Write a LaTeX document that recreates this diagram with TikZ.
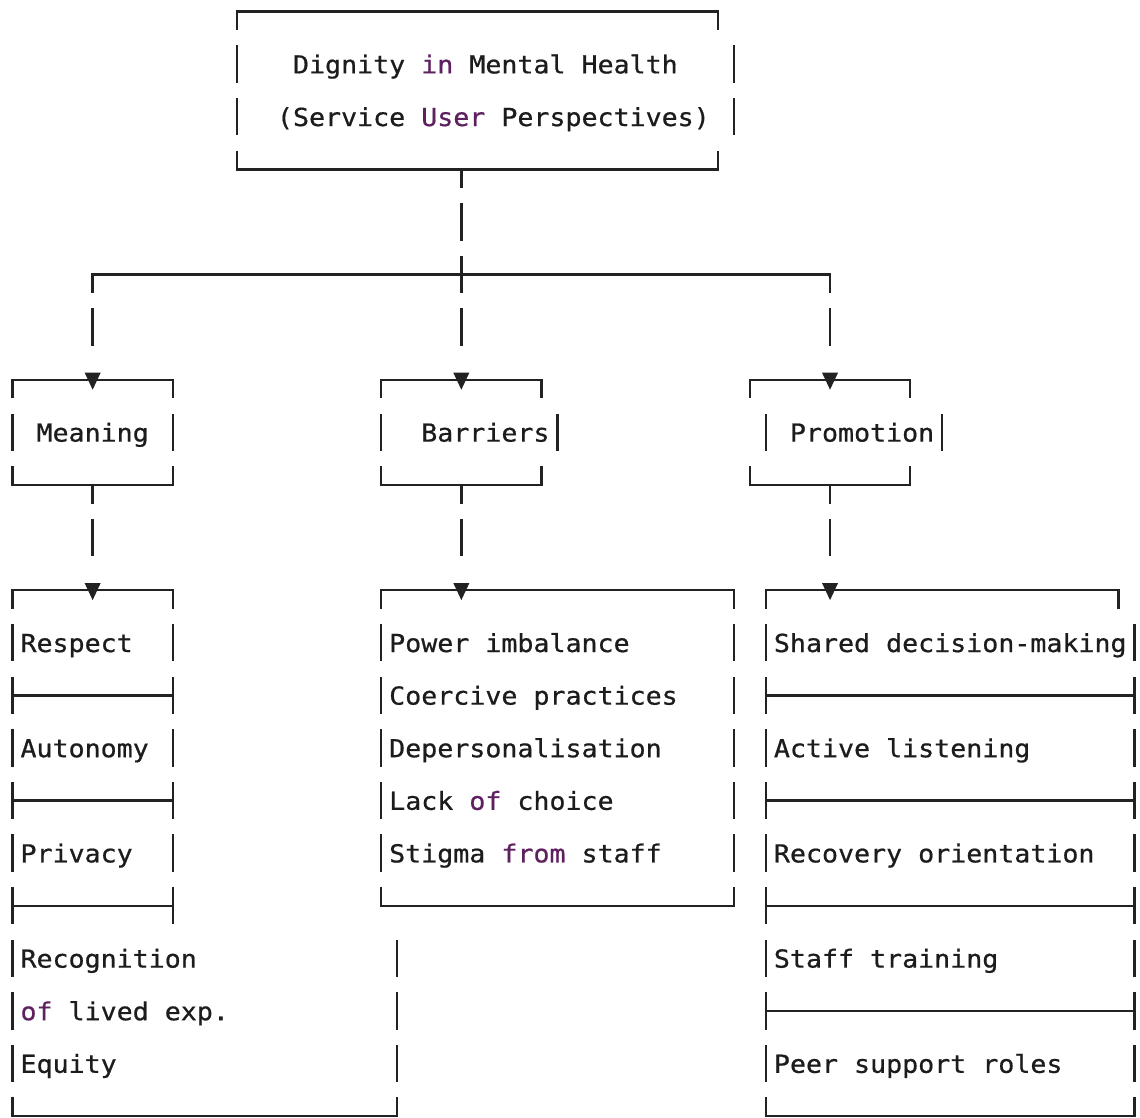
\documentclass[tikz,border=0pt]{standalone}
\usepackage{fontspec}
\newfontfamily\monofnt[FakeStretch=1.0736,FakeBold=0.7]{DejaVu Sans Mono}
\definecolor{lc}{HTML}{222222}
\definecolor{tc}{HTML}{1C1C1C}
\definecolor{kw}{HTML}{5E2160}
\newcommand\gx[1]{12.5+16.03*(#1)}
\newcommand\gy[1]{11.5+52.6*(#1)}
\newcommand\Hln[3]{\draw[frame] ({\gx{#2}},{\gy{#1}}) -- ({\gx{#3}},{\gy{#1}});}
\newcommand\Vb[4]{\draw[frame] ({\gx{#1}},{\gy{#2}+#3}) -- ({\gx{#1}},{\gy{#2}+#4});}
\newcommand\Vfull[2]{\Vb{#1}{#2}{-17.5}{17.5}}
\newcommand\Vdn[2]{\Vb{#1}{#2}{0}{17.5}}
\newcommand\Vup[2]{\Vb{#1}{#2}{-17.5}{0}}
\newcommand\Tri[2]{\fill[lc] ({\gx{#1}-8},{\gy{#2}-7}) -- ({\gx{#1}+8},{\gy{#2}-7}) -- ({\gx{#1}},{\gy{#2}+10}) -- cycle;}
\newcommand\Txt[4]{\node[txt] (#1) at ({\gx{#2}-8.015},{\gy{#3}+9.3}) {#4};}
\newcommand\kwd[1]{\textcolor{kw}{#1}}
\tikzset{
  frame/.style={draw=lc, line width=2.4pt, line cap=rect},
  txt/.style={inner sep=0pt, outer sep=0pt, anchor=base west, text=tc,
    font=\monofnt\fontsize{24.8}{30}\selectfont}
}
\begin{document}
\begin{tikzpicture}[x=1pt,y=-1pt]
\useasboundingbox (0,0) rectangle (1140,1117);
% ---------- top box ----------
\Hln{0}{14}{44} \Vdn{14}{0} \Vdn{44}{0}
\Vfull{14}{1} \Vfull{45}{1}
\Vfull{14}{2} \Vfull{45}{2}
\Txt{title1}{18}{1}{Dignity \kwd{in} Mental Health}
\Txt{title2}{17}{2}{(Service \kwd{User} Perspectives)}
\Hln{3}{14}{44} \Vup{14}{3} \Vup{44}{3} \Vdn{28}{3}
% ---------- stem and branch ----------
\Vfull{28}{4}
\Hln{5}{5}{51} \Vdn{5}{5} \Vdn{51}{5} \Vfull{28}{5}
\Vfull{5}{6} \Vfull{28}{6} \Vfull{51}{6}
% ---------- category boxes ----------
\Hln{7}{0}{10} \Hln{7}{23}{33} \Hln{7}{46}{56}
\Vdn{0}{7} \Vdn{10}{7} \Vdn{23}{7} \Vdn{33}{7} \Vdn{46}{7} \Vdn{56}{7}
\Tri{5}{7} \Tri{28}{7} \Tri{51}{7}
\Vfull{0}{8} \Vfull{10}{8} \Vfull{23}{8} \Vfull{34}{8} \Vfull{47}{8} \Vfull{58}{8}
\Txt{meaning}{2}{8}{Meaning}
\Txt{barriers}{26}{8}{Barriers}
\Txt{promotion}{49}{8}{Promotion}
\Hln{9}{0}{10} \Hln{9}{23}{33} \Hln{9}{46}{56}
\Vup{0}{9} \Vup{10}{9} \Vup{23}{9} \Vup{33}{9} \Vup{46}{9} \Vup{56}{9}
\Vdn{5}{9} \Vdn{28}{9} \Vdn{51}{9}
\Vfull{5}{10} \Vfull{28}{10} \Vfull{51}{10}
% ---------- list boxes: top borders ----------
\Hln{11}{0}{10} \Hln{11}{23}{45} \Hln{11}{47}{69}
\Vdn{0}{11} \Vdn{10}{11} \Vdn{23}{11} \Vdn{45}{11} \Vdn{47}{11} \Vdn{69}{11}
\Tri{5}{11} \Tri{28}{11} \Tri{51}{11}
% ---------- Meaning list ----------
\Vfull{0}{12} \Vfull{10}{12} \Txt{respect}{1}{12}{Respect}
\Hln{13}{0}{10} \Vfull{0}{13} \Vfull{10}{13}
\Vfull{0}{14} \Vfull{10}{14} \Txt{autonomy}{1}{14}{Autonomy}
\Hln{15}{0}{10} \Vfull{0}{15} \Vfull{10}{15}
\Vfull{0}{16} \Vfull{10}{16} \Txt{privacy}{1}{16}{Privacy}
\Hln{17}{0}{10} \Vfull{0}{17} \Vfull{10}{17}
\Vfull{0}{18} \Vfull{24}{18} \Txt{recog}{1}{18}{Recognition}
\Vfull{0}{19} \Vfull{24}{19} \Txt{lived}{1}{19}{\kwd{of} lived exp.}
\Vfull{0}{20} \Vfull{24}{20} \Txt{equity}{1}{20}{Equity}
\Hln{21}{0}{24} \Vup{0}{21} \Vup{24}{21}
% ---------- Barriers list ----------
\Vfull{23}{12} \Vfull{45}{12} \Txt{power}{24}{12}{Power imbalance}
\Vfull{23}{13} \Vfull{45}{13} \Txt{coerce}{24}{13}{Coercive practices}
\Vfull{23}{14} \Vfull{45}{14} \Txt{depers}{24}{14}{Depersonalisation}
\Vfull{23}{15} \Vfull{45}{15} \Txt{choice}{24}{15}{Lack \kwd{of} choice}
\Vfull{23}{16} \Vfull{45}{16} \Txt{stigma}{24}{16}{Stigma \kwd{from} staff}
\Hln{17}{23}{45} \Vup{23}{17} \Vup{45}{17}
% ---------- Promotion list ----------
\Vfull{47}{12} \Vfull{70}{12} \Txt{shared}{48}{12}{Shared decision-making}
\Hln{13}{47}{70} \Vfull{47}{13} \Vfull{70}{13}
\Vfull{47}{14} \Vfull{70}{14} \Txt{active}{48}{14}{Active listening}
\Hln{15}{47}{70} \Vfull{47}{15} \Vfull{70}{15}
\Vfull{47}{16} \Vfull{70}{16} \Txt{recovery}{48}{16}{Recovery orientation}
\Hln{17}{47}{70} \Vfull{47}{17} \Vfull{70}{17}
\Vfull{47}{18} \Vfull{70}{18} \Txt{training}{48}{18}{Staff training}
\Hln{19}{47}{70} \Vfull{47}{19} \Vfull{70}{19}
\Vfull{47}{20} \Vfull{70}{20} \Txt{peer}{48}{20}{Peer support roles}
\Hln{21}{47}{70} \Vup{47}{21} \Vup{70}{21}
\end{tikzpicture}
\end{document}
